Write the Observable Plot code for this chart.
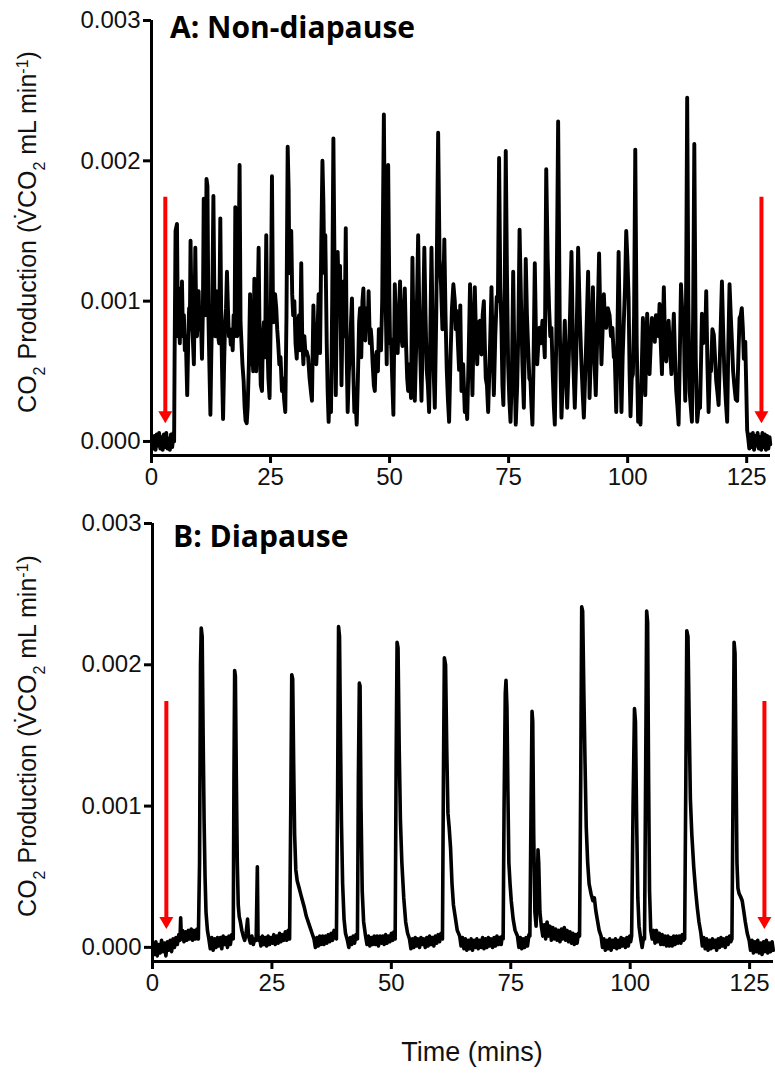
<!DOCTYPE html>
<html>
<head>
<meta charset="utf-8">
<script src="https://cdn.jsdelivr.net/npm/d3@7"></script>
<script src="https://cdn.jsdelivr.net/npm/@observablehq/plot@0.6"></script>
<style>
  html, body { margin: 0; padding: 0; background: #fff; }
  #chart { width: 775px; height: 1084px; position: relative; overflow: hidden; }
  #chart svg { display: block; }
</style>
</head>
<body>
<div id="chart"></div>
<script>
// ---- Data (time in minutes, CO2 in units of 0.001 mL/min) ----
const xDomain = [0, 130];
const yDomain = [-0.1, 3];
const xTicks = [0, 25, 50, 75, 100, 125];
const yTicks = [0, 1, 2, 3];
const yTickLabels = ["0.000", "0.001", "0.002", "0.003"];
const panelTitles = ["A: Non-diapause", "B: Diapause"];
const xLabel = "Time (mins)";
const yLabelParts = [["CO", null], ["2", "sub"], [" Production (V\u0307CO", null], ["2", "sub"], [" mL min", null], ["-1", "super"], [")", null]];

// red arrows: x positions, top of shaft and tip
const arrowX = [2.9, 128.1];
const arrowTop = 1.74;
const arrowTip = 0.13;

// Panel A: non-diapause trace [time, value]
const traceA = [
[0.1,0.02],[0.35,-0.05],[0.6,0.04],[0.85,-0.06],[1.1,0.05],[1.35,-0.03],[1.6,0.06],[1.85,-0.05],[2.1,0.03],[2.35,-0.06],
[2.6,0.05],[2.85,-0.04],[3.1,0.06],[3.35,-0.05],[3.6,0.02],[3.85,-0.06],[4.1,0.05],[4.35,-0.04],[4.6,0.06],[4.75,0.0],
[4.85,0.60],[5.05,1.50],[5.35,1.55],[5.55,0.75],[5.75,0.90],[5.95,0.70],[6.1,1.09],[6.25,0.85],[6.4,1.14],[6.6,0.75],
[6.8,0.90],[7.0,0.65],[7.2,0.75],[7.5,0.33],[7.7,0.70],[7.9,0.95],[8.05,0.80],[8.2,1.43],[8.4,0.95],[8.6,0.80],
[8.9,0.55],[9.05,0.95],[9.2,1.38],[9.4,0.85],[9.55,0.75],[9.75,0.95],[9.9,1.07],[10.1,0.80],[10.3,0.95],[10.6,0.59],
[10.8,0.95],[10.97,1.73],[11.15,1.00],[11.35,0.90],[11.55,1.87],[11.75,1.82],[11.95,0.90],[12.15,0.55],[12.37,0.19],[12.55,0.60],
[12.75,0.95],[13.0,1.75],[13.2,1.05],[13.4,0.75],[13.6,0.95],[13.8,1.07],[14.0,0.75],[14.2,0.70],[14.45,1.59],[14.65,0.85],
[14.85,0.45],[15.03,0.16],[15.25,0.55],[15.45,0.85],[15.65,0.95],[15.85,1.21],[16.05,0.95],[16.25,0.75],[16.45,0.80],[16.65,0.69],
[16.85,0.75],[17.05,0.65],[17.25,0.90],[17.45,0.75],[17.6,1.67],[17.8,0.85],[18.0,0.75],[18.2,0.95],[18.5,1.97],[18.7,0.85],
[18.9,0.70],[19.1,0.55],[19.35,0.43],[19.55,0.25],[19.75,0.15],[20.0,0.13],[20.2,0.25],[20.45,0.55],[20.7,1.05],[20.9,0.55],
[21.1,0.75],[21.35,0.50],[21.6,1.16],[21.8,0.70],[22.0,0.50],[22.25,0.90],[22.5,1.38],[22.7,0.75],[22.95,0.40],[23.2,0.36],
[23.4,0.75],[23.6,0.85],[23.85,0.60],[24.1,1.47],[24.3,0.75],[24.55,0.45],[24.8,0.31],[25.05,0.90],[25.3,1.89],[25.5,1.00],
[25.7,0.85],[25.95,1.05],[26.2,0.95],[26.4,0.80],[26.6,0.70],[26.85,0.55],[27.1,0.60],[27.4,0.36],[27.6,0.45],[27.85,0.30],
[28.1,0.21],[28.35,0.90],[28.6,2.10],[28.8,1.80],[28.95,1.20],[29.15,1.35],[29.35,1.50],[29.55,1.05],[29.75,0.90],[30.0,1.00],
[30.25,0.70],[30.5,0.59],[30.75,0.85],[31.0,0.90],[31.2,0.65],[31.45,1.27],[31.65,0.75],[31.9,0.55],[32.1,0.75],[32.35,0.62],
[32.6,0.64],[32.9,0.60],[33.2,0.45],[33.5,0.35],[33.7,0.29],[34.0,0.97],[34.2,0.70],[34.4,0.72],[34.6,0.55],[34.75,0.65],
[35.1,1.05],[35.25,0.80],[35.4,0.63],[35.65,1.40],[35.9,2.00],[36.1,1.70],[36.3,1.20],[36.5,1.47],[36.8,0.70],[37.0,0.35],
[37.2,0.14],[37.45,0.40],[37.7,0.21],[37.95,1.00],[38.2,2.16],[38.4,1.40],[38.55,0.70],[38.7,0.33],[38.9,0.90],[39.1,1.35],
[39.35,1.00],[39.6,1.25],[39.75,0.80],[39.9,0.40],[40.1,0.85],[40.3,1.14],[40.55,0.75],[40.8,1.52],[41.0,0.60],[41.2,0.21],
[41.45,0.50],[41.7,0.65],[41.9,0.85],[42.1,1.02],[42.35,0.55],[42.6,0.21],[42.85,0.30],[43.1,0.12],[43.35,0.45],[43.6,0.85],
[43.8,0.95],[44.05,0.60],[44.3,1.00],[44.5,1.09],[44.7,0.80],[44.9,0.72],[45.15,0.95],[45.4,0.80],[45.6,1.07],[45.85,0.70],
[46.05,0.80],[46.2,0.74],[46.45,0.55],[46.7,0.40],[46.9,0.36],[47.1,0.60],[47.3,0.64],[47.55,0.50],[47.75,0.80],[48.0,0.78],
[48.2,0.65],[48.45,1.00],[48.8,2.33],[49.05,1.30],[49.25,0.85],[49.4,0.55],[49.7,1.97],[49.95,1.05],[50.1,0.70],[50.3,0.73],
[50.55,0.45],[50.8,0.19],[51.1,1.12],[51.3,0.85],[51.5,0.75],[51.7,0.63],[51.95,0.90],[52.2,1.14],[52.45,0.75],[52.7,0.68],
[52.95,0.85],[53.2,1.09],[53.45,0.70],[53.7,0.45],[53.9,0.36],[54.2,0.55],[54.5,0.31],[54.8,1.31],[55.05,0.70],[55.3,0.29],
[55.6,0.70],[56.0,1.47],[56.3,0.80],[56.5,0.55],[56.7,0.29],[57.0,0.80],[57.3,1.38],[57.55,0.90],[57.8,0.51],[58.05,0.40],
[58.3,0.21],[58.55,0.75],[58.8,1.38],[59.05,0.80],[59.3,0.45],[59.5,0.24],[59.8,0.90],[60.2,2.20],[60.5,1.30],[60.8,1.12],
[61.1,0.80],[61.3,1.10],[61.5,1.44],[61.75,0.90],[62.0,0.52],[62.25,0.30],[62.5,0.14],[62.8,0.60],[63.1,0.95],[63.4,1.12],
[63.7,1.00],[63.9,0.80],[64.1,0.93],[64.35,0.70],[64.6,0.51],[64.85,0.97],[65.1,0.36],[65.45,0.55],[65.8,0.21],[66.05,0.30],
[66.3,0.16],[66.6,0.60],[66.9,1.12],[67.15,0.70],[67.4,0.33],[67.65,0.80],[67.9,1.10],[68.15,0.75],[68.4,0.55],[68.7,0.85],
[68.97,0.86],[69.15,0.70],[69.3,0.62],[69.55,0.90],[69.8,1.00],[70.0,0.70],[70.2,0.45],[70.45,0.40],[70.7,0.21],[70.95,0.50],
[71.15,0.75],[71.4,1.10],[71.65,0.65],[71.9,0.33],[72.2,0.75],[72.5,1.03],[72.75,1.00],[73.0,2.02],[73.25,1.10],[73.5,0.81],
[73.7,0.40],[73.9,0.26],[74.15,0.90],[74.4,2.07],[74.65,1.20],[74.9,0.55],[75.15,0.30],[75.4,0.14],[75.7,0.50],[75.96,1.21],
[76.2,0.60],[76.5,0.12],[76.8,0.40],[77.05,0.80],[77.3,1.51],[77.6,1.00],[77.9,0.55],[78.2,0.24],[78.4,0.70],[78.6,1.30],
[78.85,0.90],[79.1,0.67],[79.35,0.45],[79.6,0.43],[79.8,0.25],[80.0,0.12],[80.25,0.60],[80.5,1.27],[80.75,0.75],[81.0,0.55],
[81.25,0.70],[81.5,0.81],[81.8,0.70],[82.1,0.86],[82.35,0.75],[82.6,0.60],[82.9,1.94],[83.2,1.30],[83.5,0.95],[83.75,0.75],
[84.0,0.81],[84.25,0.50],[84.5,0.25],[84.7,0.12],[85.0,0.70],[85.4,2.28],[85.75,0.80],[86.1,0.17],[86.45,0.50],[86.8,0.86],
[87.05,0.50],[87.3,0.24],[87.6,0.55],[87.9,0.90],[88.2,1.35],[88.55,0.60],[88.9,0.24],[89.2,0.60],[89.6,1.38],[89.95,0.90],
[90.3,0.55],[90.55,0.35],[90.8,0.17],[91.2,0.60],[91.7,1.21],[92.0,0.31],[92.35,0.70],[92.7,1.10],[93.0,0.60],[93.3,0.33],
[93.65,0.80],[94.0,1.34],[94.25,0.90],[94.5,0.55],[94.75,0.80],[95.0,1.05],[95.25,0.85],[95.5,0.81],[95.85,0.95],[96.2,0.90],
[96.5,0.75],[96.8,0.81],[97.1,0.60],[97.3,0.59],[97.6,0.21],[97.85,0.75],[98.1,1.35],[98.4,0.70],[98.7,0.21],[98.95,0.60],
[99.2,0.86],[99.45,1.10],[99.7,1.50],[99.95,1.30],[100.2,1.02],[100.4,0.50],[100.6,0.18],[100.85,0.45],[101.1,0.48],[101.35,0.90],
[101.6,2.08],[101.9,0.70],[102.2,0.14],[102.45,0.25],[102.7,0.12],[102.95,0.50],[103.2,0.88],[103.45,0.60],[103.7,0.33],[103.9,0.65],
[104.1,0.91],[104.35,0.65],[104.6,0.48],[104.85,0.70],[105.1,0.88],[105.4,0.75],[105.7,0.71],[105.95,0.90],[106.2,0.88],[106.45,0.75],
[106.7,0.98],[106.95,0.70],[107.2,0.48],[107.4,0.80],[107.6,1.10],[107.85,0.70],[108.1,0.57],[108.35,0.75],[108.6,0.86],[108.9,0.65],
[109.2,0.48],[109.45,0.70],[109.7,0.91],[109.95,0.60],[110.2,0.36],[110.45,0.25],[110.7,0.12],[110.95,0.60],[111.2,1.12],[111.5,0.90],
[111.8,0.86],[111.95,0.50],[112.1,0.29],[112.3,1.20],[112.5,2.45],[112.75,1.00],[113.0,0.36],[113.25,0.25],[113.5,0.14],[113.75,0.90],
[114.0,2.12],[114.3,0.60],[114.6,0.14],[114.9,0.25],[115.2,0.24],[115.4,0.55],[115.6,0.91],[115.85,0.70],[116.1,0.79],[116.3,0.75],
[116.5,1.07],[116.75,0.55],[117.0,0.21],[117.25,0.50],[117.5,0.50],[117.8,0.80],[118.1,0.76],[118.35,0.60],[118.6,0.43],[118.85,0.35],
[119.1,0.26],[119.45,0.70],[119.8,1.14],[120.05,0.80],[120.3,0.50],[120.6,0.30],[120.9,0.14],[121.15,0.70],[121.4,1.12],[121.65,0.90],
[121.9,0.71],[122.15,0.50],[122.4,0.40],[122.7,0.30],[123.0,0.29],[123.25,0.60],[123.5,0.88],[123.75,0.90],[123.97,0.95],[124.2,0.80],
[124.4,0.59],[124.55,0.70],[124.7,0.71],[124.9,0.40],[125.1,0.08],[125.3,0.03],[125.55,-0.05],[125.8,0.05],[126.05,-0.04],[126.3,0.06],
[126.55,-0.06],[126.8,0.04],[127.05,-0.03],[127.3,0.06],[127.55,-0.05],[127.8,0.03],[128.05,-0.06],[128.3,0.06],[128.55,-0.04],[128.8,0.05],
[129.05,-0.06],[129.3,0.04],[129.55,-0.05],[129.8,0.03],[129.95,-0.02]
];

// Panel B: diapause trace [time, value]
const traceB = [
[0.1,0.00],[0.4,-0.05],[0.7,0.04],[1.0,-0.06],[1.3,0.02],[1.6,-0.04],[1.9,0.05],[2.2,-0.03],[2.5,0.03],[2.8,-0.06],
[3.1,0.04],[3.4,-0.02],[3.7,0.05],[4.0,-0.03],[4.3,0.06],[4.6,0.00],[4.9,0.07],[5.2,0.02],[5.5,0.09],[5.75,0.05],
[5.9,0.21],[6.05,0.06],[6.3,0.12],[6.6,0.04],[6.9,0.11],[7.2,0.05],[7.5,0.12],[7.8,0.06],[8.1,0.13],[8.4,0.05],
[8.7,0.12],[9.0,0.06],[9.3,0.13],
[9.6,0.06],[9.85,0.6],[10.05,2.0],[10.2,2.26],[10.4,2.20],[10.6,1.5],[10.8,0.9],[11.0,0.5],[11.2,0.25],[11.5,0.12],[11.8,0.06],
[12.1,-0.01],[12.4,0.07],[12.7,-0.02],[13.0,0.06],[13.3,0.00],[13.6,0.07],[13.9,0.01],[14.2,0.07],[14.5,-0.01],[14.8,0.08],
[15.1,0.02],[15.4,0.07],[15.7,0.00],[16.0,0.08],[16.3,0.02],[16.6,0.09],
[16.9,0.06],[17.05,1.2],[17.2,1.96],[17.35,1.92],[17.55,1.2],[17.75,0.6],[17.95,0.3],[18.15,0.22],[18.4,0.18],[18.7,0.12],
[19.0,0.08],[19.3,0.05],[19.6,0.10],[19.9,0.20],[20.1,0.08],[20.5,0.03],[20.8,0.08],[21.1,0.02],[21.4,0.06],[21.7,0.05],
[21.95,0.57],[22.1,0.05],
[22.4,0.07],[22.7,0.01],[23.0,0.08],[23.3,0.02],[23.6,0.07],[23.9,0.01],[24.2,0.08],[24.5,0.02],[24.8,0.07],[25.1,0.03],
[25.4,0.09],[25.7,0.02],[26.0,0.08],[26.3,0.03],[26.6,0.10],[26.9,0.04],[27.2,0.09],[27.5,0.05],[27.8,0.11],[28.1,0.05],[28.4,0.12],
[28.7,0.06],[28.95,1.0],[29.15,1.93],[29.35,1.90],[29.55,1.3],[29.75,0.8],[30.0,0.55],[30.3,0.47],[30.7,0.42],[31.0,0.38],
[31.4,0.33],[31.8,0.28],[32.2,0.22],[32.6,0.18],[33.0,0.14],[33.4,0.10],[33.8,0.06],
[34.1,0.00],[34.4,0.07],[34.7,0.01],[35.0,0.08],[35.3,0.02],[35.6,0.08],[35.9,0.02],[36.2,0.08],[36.5,0.03],[36.8,0.09],
[37.1,0.04],[37.4,0.10],[37.7,0.05],[38.0,0.12],[38.25,0.07],
[38.5,0.06],[38.75,1.1],[38.95,2.27],[39.15,2.20],[39.35,1.5],[39.55,0.9],[39.8,0.45],[40.1,0.20],[40.4,0.10],[40.8,0.05],
[41.1,0.00],[41.4,0.07],[41.7,0.02],[42.0,0.08],[42.3,0.03],[42.6,0.09],
[42.9,0.06],[43.1,1.2],[43.3,1.87],[43.45,1.85],[43.65,1.0],[43.9,0.4],[44.2,0.18],[44.6,0.08],
[44.9,0.02],[45.2,0.08],[45.5,0.01],[45.8,0.07],[46.1,0.02],[46.4,0.08],[46.7,0.02],[47.0,0.08],[47.3,0.01],[47.6,0.08],
[47.9,0.03],[48.2,0.08],[48.5,0.02],[48.8,0.09],[49.1,0.03],[49.4,0.08],[49.7,0.04],[50.0,0.10],[50.3,0.05],[50.55,0.11],
[50.8,0.06],[51.0,1.3],[51.2,2.16],[51.4,2.12],[51.65,1.4],[51.9,0.9],[52.2,0.6],[52.6,0.35],[53.0,0.18],[53.4,0.10],[53.8,0.06],
[54.1,-0.01],[54.4,0.06],[54.7,0.00],[55.0,0.07],[55.3,0.01],[55.6,0.06],[55.9,0.00],[56.2,0.07],[56.5,0.02],[56.8,0.06],
[57.1,0.00],[57.4,0.07],[57.7,0.01],[58.0,0.08],[58.3,0.02],[58.6,0.07],[58.9,0.01],[59.2,0.08],[59.5,0.03],[59.8,0.09],
[60.1,0.04],[60.4,0.10],
[60.7,0.06],[60.9,1.2],[61.1,2.05],[61.35,2.00],[61.6,1.4],[61.85,0.95],[62.1,0.85],[62.4,0.70],[62.7,0.45],[63.0,0.30],
[63.4,0.21],[63.8,0.12],[64.3,0.08],
[64.6,0.01],[64.9,0.07],[65.2,-0.01],[65.5,0.06],[65.8,-0.02],[66.1,0.05],[66.4,-0.01],[66.7,0.06],[67.0,-0.02],[67.3,0.05],
[67.6,0.00],[67.9,0.06],[68.2,-0.01],[68.5,0.05],[68.8,0.00],[69.1,0.07],[69.4,-0.01],[69.7,0.06],[70.0,0.00],[70.3,0.07],
[70.6,0.01],[70.9,0.06],[71.2,0.00],[71.5,0.07],[71.8,0.01],[72.1,0.08],[72.4,0.02],[72.7,0.07],[73.0,0.02],[73.2,0.08],
[73.4,0.06],[73.6,1.0],[73.85,1.80],[74.0,1.89],[74.2,1.7],[74.4,1.1],[74.6,0.6],[74.85,0.45],[75.1,0.33],[75.5,0.20],
[75.9,0.12],[76.4,0.08],
[76.7,0.00],[77.0,0.07],[77.3,-0.01],[77.6,0.06],[77.9,0.00],[78.2,0.07],[78.5,0.01],[78.8,0.09],
[79.0,0.08],[79.25,1.0],[79.45,1.67],[79.6,1.60],[79.8,0.8],[80.05,0.25],[80.3,0.15],[80.55,0.40],[80.7,0.69],[80.85,0.60],
[81.1,0.25],[81.4,0.15],
[81.7,0.08],[82.0,0.16],[82.3,0.06],[82.6,0.18],[82.9,0.08],[83.2,0.15],[83.5,0.05],[83.8,0.14],[84.1,0.06],[84.4,0.13],
[84.7,0.05],[85.0,0.12],[85.3,0.04],[85.6,0.13],[85.9,0.06],[86.2,0.14],[86.5,0.05],[86.8,0.12],[87.1,0.04],[87.4,0.11],
[87.7,0.03],[88.0,0.10],[88.3,0.02],[88.6,0.09],[88.9,0.03],[89.15,0.10],
[89.4,0.08],[89.65,1.2],[89.85,2.41],[90.05,2.38],[90.3,1.8],[90.55,1.3],[90.8,0.85],[91.1,0.6],[91.4,0.45],[91.8,0.38],
[92.2,0.33],[92.5,0.35],[92.8,0.26],[93.1,0.20],[93.5,0.12],[93.9,0.08],
[94.2,0.00],[94.5,0.06],[94.8,-0.02],[95.1,0.05],[95.4,-0.01],[95.7,0.06],[96.0,-0.02],[96.3,0.05],[96.6,0.00],[96.9,0.06],
[97.2,-0.01],[97.5,0.05],[97.8,0.00],[98.1,0.07],[98.4,0.01],[98.7,0.06],[99.0,0.00],[99.3,0.07],[99.6,0.01],[99.9,0.08],[100.1,0.04],
[100.3,0.08],[100.6,1.0],[100.9,1.69],[101.1,1.60],[101.35,0.9],[101.6,0.35],[101.85,0.15],[102.2,0.06],
[102.5,0.00],[102.8,0.07],
[103.0,0.06],[103.25,1.3],[103.45,2.38],[103.65,2.30],[103.85,1.2],[104.05,0.4],[104.3,0.12],[104.6,0.06],
[104.9,0.12],[105.2,0.03],[105.5,0.12],[105.8,0.04],[106.1,0.10],[106.4,0.02],[106.7,0.09],[107.0,0.02],[107.3,0.08],[107.6,0.01],
[107.9,0.08],[108.2,0.01],[108.5,0.07],[108.8,0.01],[109.1,0.08],[109.4,0.02],[109.7,0.08],[110.0,0.03],[110.3,0.08],[110.6,0.03],
[110.9,0.09],[111.15,0.05],
[111.4,0.06],[111.65,1.2],[111.85,2.24],[112.1,2.20],[112.35,1.6],[112.6,1.05],[112.9,0.8],[113.3,0.57],[113.7,0.40],[114.05,0.28],
[114.4,0.18],[114.8,0.10],
[115.1,0.01],[115.4,0.07],[115.7,-0.01],[116.0,0.06],[116.3,-0.02],[116.6,0.05],[116.9,-0.01],[117.2,0.06],[117.5,0.00],[117.8,0.05],
[118.1,-0.02],[118.4,0.06],[118.7,0.00],[119.0,0.07],[119.3,0.01],[119.6,0.06],[119.9,0.00],[120.2,0.07],[120.5,0.02],[120.8,0.08],[121.05,0.04],
[121.3,0.06],[121.55,1.2],[121.75,2.16],[121.95,2.08],[122.15,1.3],[122.35,0.6],[122.55,0.42],[122.8,0.38],[123.1,0.36],[123.45,0.33],
[123.8,0.25],[124.1,0.18],[124.5,0.10],[124.9,0.05],
[125.2,-0.02],[125.5,0.05],[125.8,-0.04],[126.1,0.04],[126.4,-0.03],[126.7,0.05],[127.0,-0.04],[127.3,0.03],[127.6,-0.05],[127.9,0.04],
[128.2,-0.03],[128.5,0.05],[128.8,-0.04],[129.1,0.03],[129.4,-0.03],[129.7,0.04],[129.95,-0.02]
];

// ---- Drawing ----
const tickFont = "'Liberation Sans', Arial, sans-serif";

function panel(trace, opts) {
  return Plot.plot({
    width: 775,
    height: opts.height,
    marginLeft: opts.marginLeft,
    marginRight: opts.marginRight,
    marginTop: opts.marginTop,
    marginBottom: opts.marginBottom,
    style: { background: "transparent", color: "#111", fontFamily: tickFont, overflow: "visible" },
    x: { domain: xDomain },
    y: { domain: yDomain },
    marks: [
      Plot.ruleX([xDomain[0]], { y1: yDomain[0], y2: yDomain[1], stroke: "#000", strokeWidth: 3 }),
      Plot.ruleY([yDomain[0]], { x1: xDomain[0], x2: xDomain[1], stroke: "#000", strokeWidth: 3 }),
      Plot.axisY({ ticks: yTicks, tickFormat: d => yTickLabels[yTicks.indexOf(d)], tickSize: 8, tickPadding: 3, fontSize: 24, strokeWidth: 3, stroke: "#000", label: null }),
      Plot.axisX({ ticks: xTicks, tickSize: 8, tickPadding: 4, fontSize: 24, strokeWidth: 3, stroke: "#000", label: null }),
      Plot.line(trace, { x: d => d[0], y: d => d[1], stroke: "#000", strokeWidth: opts.lineWidth, strokeLinejoin: "round" }),
      Plot.ruleX(arrowX, { y1: arrowTop, y2: arrowTip, stroke: "#f00", strokeWidth: 4, insetBottom: 7 }),
      Plot.dot(arrowX, { x: d => d, y: arrowTip, symbol: "triangle", r: 5.2, fill: "#f00", stroke: "none", rotate: 180, dy: -8 })
    ]
  });
}

function addTitle(svg, text, x, y) {
  d3.select(svg).append("text")
    .attr("x", x).attr("y", y)
    .attr("text-anchor", "start")
    .attr("font-family", "'Open Sans', 'Noto Sans', sans-serif")
    .attr("font-weight", 700)
    .attr("font-size", 30)
    .attr("fill", "#000")
    .text(text);
}

function addYLabel(svg, cx, cy) {
  const t = d3.select(svg).append("text")
    .attr("transform", `translate(${cx},${cy}) rotate(-90)`)
    .attr("text-anchor", "middle")
    .attr("font-family", tickFont)
    .attr("font-size", 25)
    .attr("fill", "#111");
  yLabelParts.forEach(([s, shift]) => {
    const ts = t.append("tspan").text(s);
    if (shift) ts.attr("baseline-shift", shift).attr("font-size", 16);
  });
}

const chart = document.getElementById("chart");

const svgA = panel(traceA, { height: 500, marginLeft: 151, marginRight: 5, marginTop: 20, marginBottom: 45, lineWidth: 3.9 });
addTitle(svgA, panelTitles[0], 170, 38);
addYLabel(svgA, 36, 232);
chart.appendChild(svgA);

const svgB = panel(traceB, { height: 584, marginLeft: 152, marginRight: 2, marginTop: 23, marginBottom: 123, lineWidth: 3.6 });
addTitle(svgB, panelTitles[1], 173, 47);
addYLabel(svgB, 36, 236);
d3.select(svgB).append("text")
  .attr("x", 472).attr("y", 561)
  .attr("text-anchor", "middle")
  .attr("font-family", tickFont)
  .attr("font-size", 27)
  .attr("fill", "#111")
  .text(xLabel);
chart.appendChild(svgB);
</script>
</body>
</html>
